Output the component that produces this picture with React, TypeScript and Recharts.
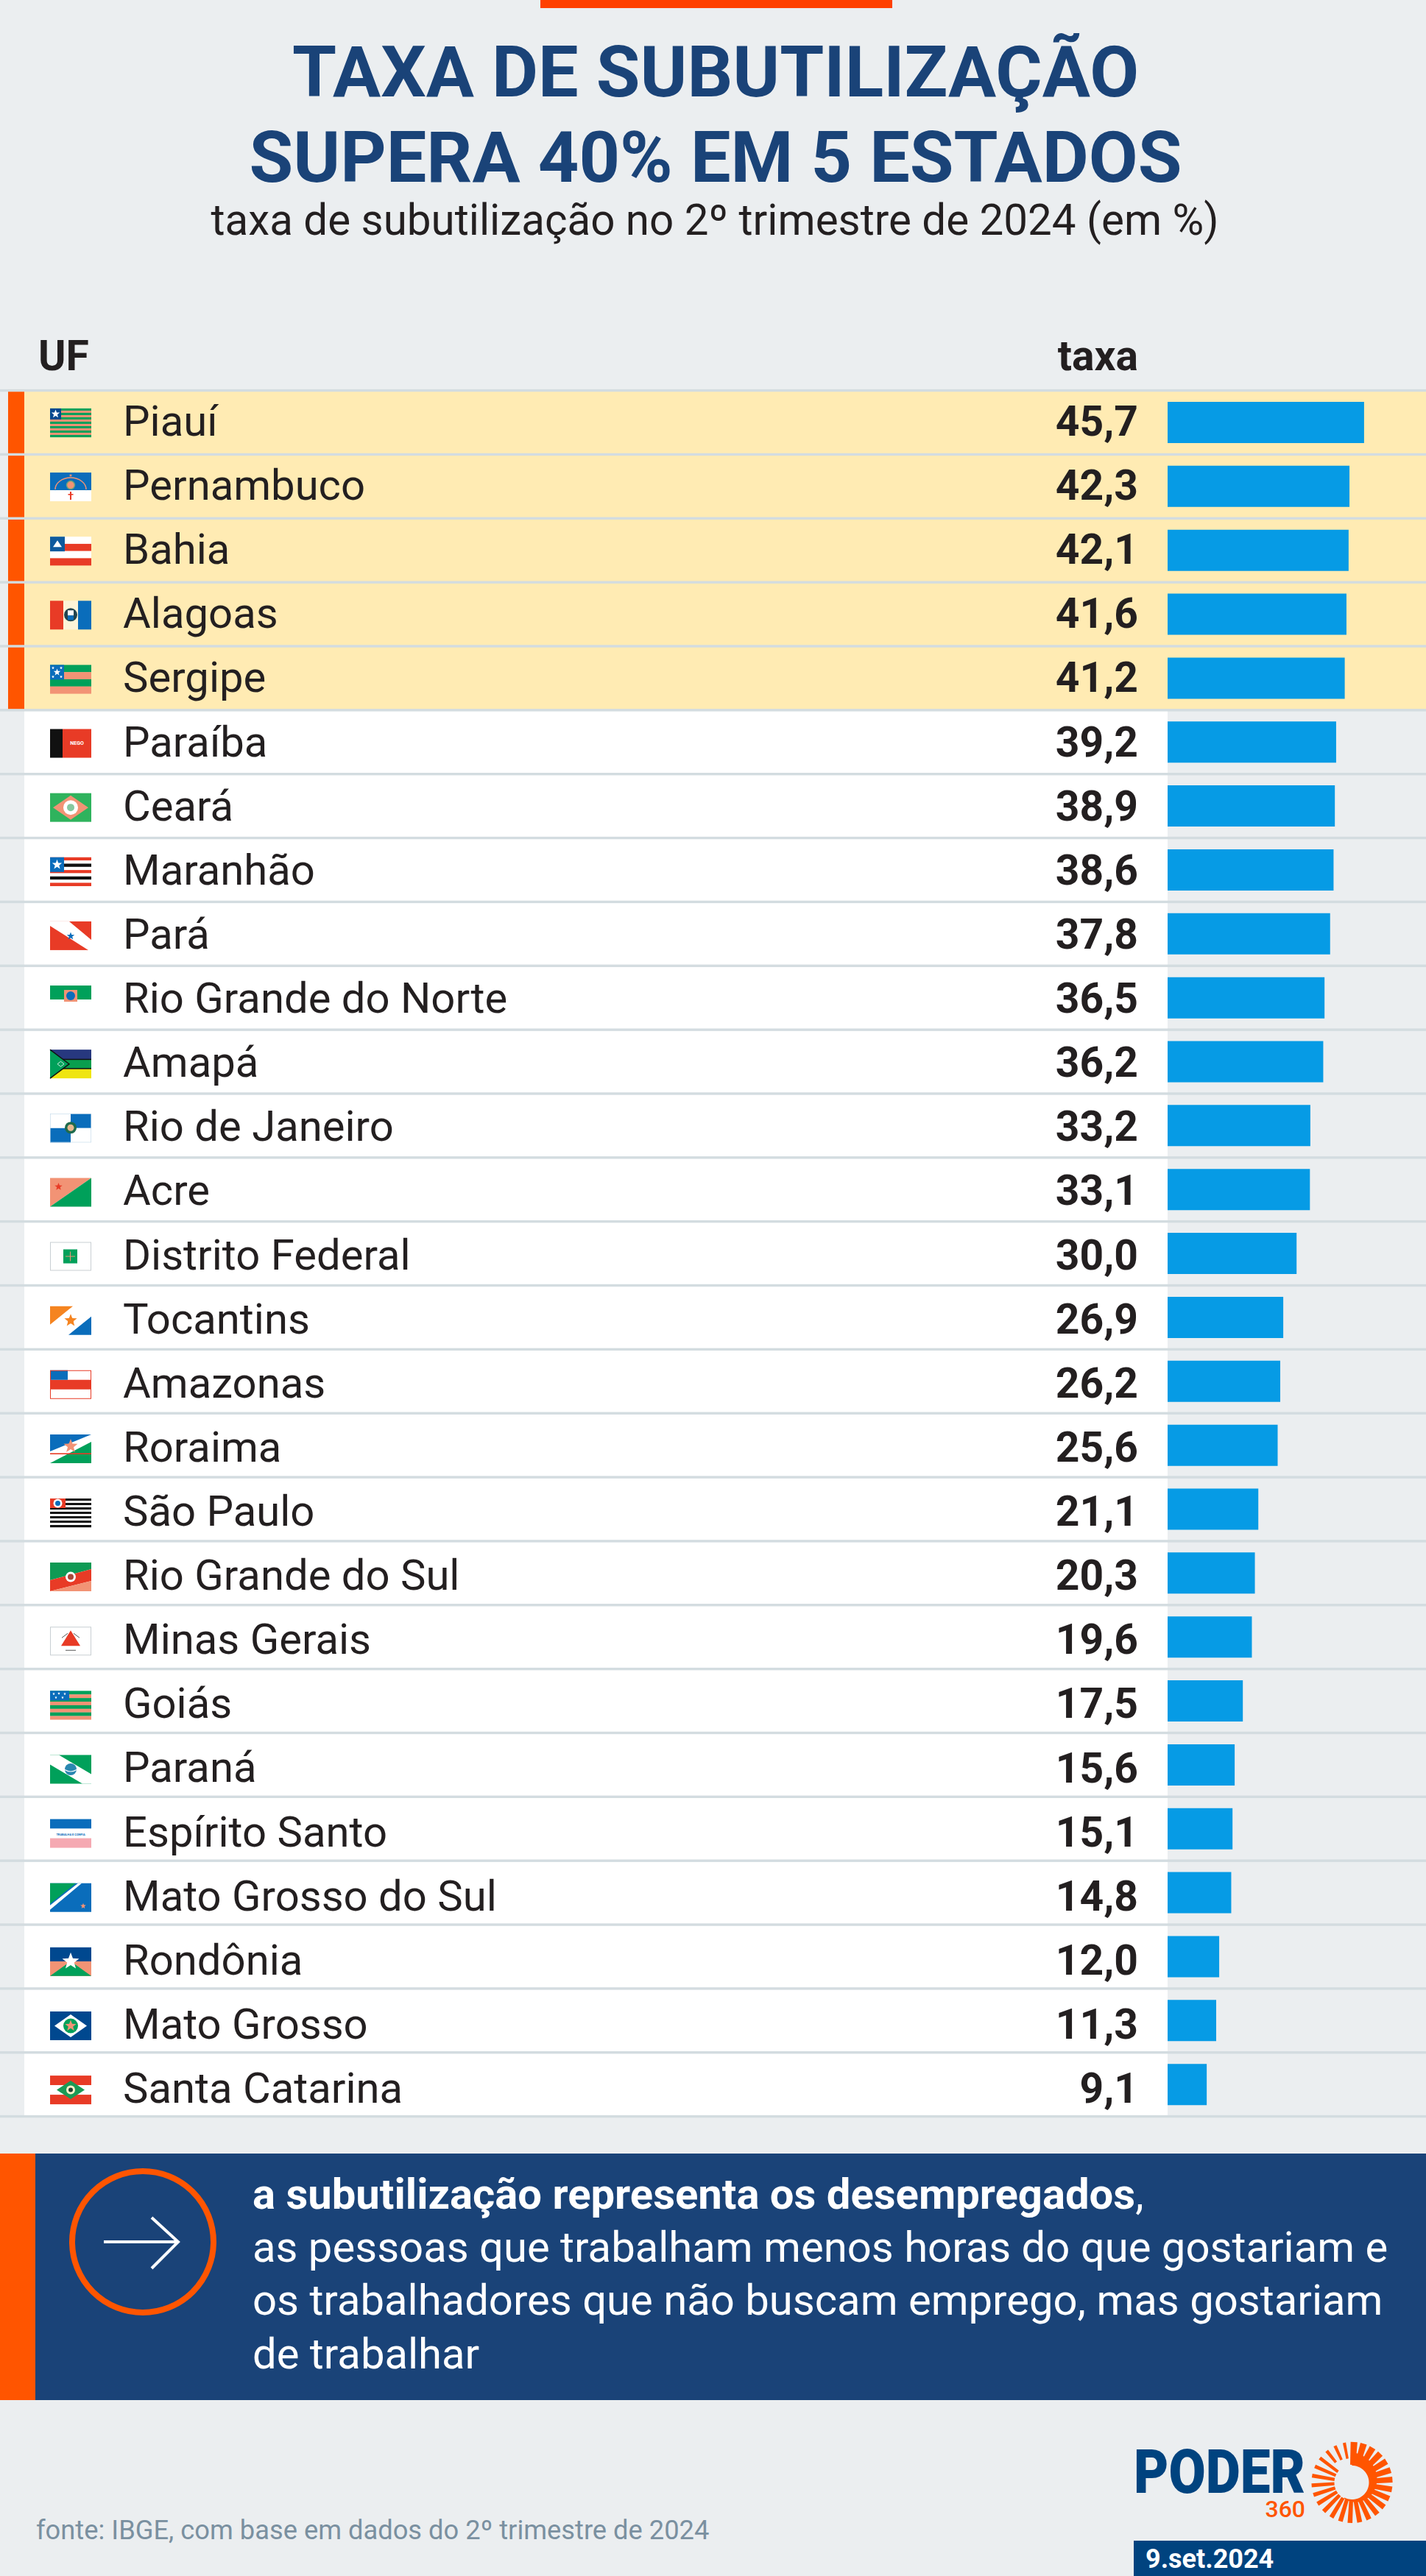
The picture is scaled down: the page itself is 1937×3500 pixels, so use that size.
import React from "react";
import { BarChart, Bar, XAxis, YAxis, LabelList } from "recharts";

const estados = [
  "Piauí", "Pernambuco", "Bahia", "Alagoas", "Sergipe", "Paraíba", "Ceará", "Maranhão", "Pará",
  "Rio Grande do Norte", "Amapá", "Rio de Janeiro", "Acre", "Distrito Federal", "Tocantins",
  "Amazonas", "Roraima", "São Paulo", "Rio Grande do Sul", "Minas Gerais", "Goiás", "Paraná",
  "Espírito Santo", "Mato Grosso do Sul", "Rondônia", "Mato Grosso", "Santa Catarina",
];
const taxas = [
  45.7, 42.3, 42.1, 41.6, 41.2, 39.2, 38.9, 38.6, 37.8, 36.5, 36.2, 33.2, 33.1, 30.0, 26.9, 26.2,
  25.6, 21.1, 20.3, 19.6, 17.5, 15.6, 15.1, 14.8, 12.0, 11.3, 9.1,
];
const destaques = ["Piauí", "Pernambuco", "Bahia", "Alagoas", "Sergipe"];

const rows = estados.map((uf, i) => ({ uf, taxa: taxas[i] }));

const ROW_H = (3500 - 531 - 624) / 27;
// text and flags sit a hair lower each row in the original
const DRIFT = 0.27;

const GREEN = "#00A05A";
const SALMON = "#F29375";
const BLUE = "#0A6DBB";
const DARK = "#00488F";
const RED = "#E83B26";
const BLACK = "#111111";
const GREY = "#C9CFD3";

const star = (cx: number, cy: number, r: number, fill: string) => {
  const pts: string[] = [];
  for (let i = 0; i < 10; i++) {
    const a = -Math.PI / 2 + (i * Math.PI) / 5;
    const q = i % 2 ? r * 0.42 : r;
    pts.push(`${cx + q * Math.cos(a)},${cy + q * Math.sin(a)}`);
  }
  return <polygon points={pts.join(" ")} fill={fill} />;
};

const R = (x: number, y: number, w: number, h: number, fill: string) => (
  <rect x={x} y={y} width={w} height={h} fill={fill} />
);
const P = (points: string, fill: string) => <polygon points={points} fill={fill} />;

const stripes = (n: number, colors: string[]) =>
  Array.from({ length: n }, (_, i) => (
    <rect key={i} x={0} y={(i * 39) / n} width={56} height={39 / n + 0.2} fill={colors[i % colors.length]} />
  ));

const crest = (fill: string, ring: string) => (
  <>
    <circle cx={28} cy={19} r={8} fill={ring} />
    <circle cx={28} cy={19} r={4.5} fill={fill} />
  </>
);

const flags: Record<string, React.ReactNode> = {
  "Piauí": (<>{stripes(13, [GREEN, SALMON])}{R(0, 0, 15, 15, DARK)}{star(7.5, 7.5, 6, "#fff")}</>),
  "Pernambuco": (
    <>
      {R(0, 0, 56, 24, BLUE)}{R(0, 24, 56, 15, "#fff")}
      <path d="M7 23 A21 16 0 0 1 49 23" fill="none" stroke={SALMON} strokeWidth={1.5} />
      <circle cx={28} cy={17} r={5.5} fill={SALMON} stroke="#6BA37A" strokeWidth={1.5} />
      {star(28, 4, 2.5, SALMON)}{R(27, 26, 2, 11, RED)}{R(24.5, 29, 7, 1.6, RED)}
    </>
  ),
  "Bahia": (<>{stripes(4, ["#fff", RED])}{R(0, 0, 20, 20, "#0E5A9E")}{P("10,5 16,14 4,14", "#fff")}</>),
  "Alagoas": (
    <>
      {R(0, 0, 18, 39, RED)}{R(18, 0, 20, 39, "#FDF3D8")}{R(38, 0, 18, 39, BLUE)}
      <circle cx={28} cy={19} r={9} fill="#23444F" />{R(24, 13, 8, 7, "#fff")}{R(24, 20, 8, 6, BLUE)}
    </>
  ),
  "Sergipe": (
    <>
      {stripes(4, [GREEN, SALMON])}{R(0, 0, 19, 20, BLUE)}
      {star(9.5, 10, 5, "#fff")}{star(4, 4, 2.2, "#fff")}{star(15, 4, 2.2, "#fff")}{star(4, 16, 2.2, "#fff")}{star(15, 16, 2.2, "#fff")}
    </>
  ),
  "Paraíba": (
    <>
      {R(0, 0, 17, 39, BLACK)}{R(17, 0, 39, 39, RED)}
      <text x={36.5} y={21.5} textAnchor="middle" fontFamily="Roboto" fontWeight={700} fontSize={7} fill="#fff">NEGO</text>
    </>
  ),
  "Ceará": (<>{R(0, 0, 56, 39, "#2FB35D")}{P("4,19.5 28,3 52,19.5 28,36", SALMON)}<circle cx={28} cy={19.5} r={10} fill="#fff" /><circle cx={28} cy={19.5} r={5} fill="#86C8A0" /></>),
  "Maranhão": (<>{stripes(9, [RED, "#fff", BLACK, "#fff"])}{R(0, 0, 19, 20, BLUE)}{star(9.5, 10, 7, "#fff")}</>),
  "Pará": (<>{R(0, 0, 56, 39, RED)}{P("0,0 26,0 56,25 56,39 52,39 0,6", "#fff")}{star(28, 20, 5.5, BLUE)}</>),
  "Rio Grande do Norte": (<>{R(0, 0, 56, 19, GREEN)}{R(0, 19, 56, 20, "#fff")}{R(19, 6, 18, 16, SALMON)}<circle cx={28} cy={14} r={6} fill={BLUE} /></>),
  "Amapá": (
    <>
      {R(0, 0, 56, 13, "#27387F")}{R(0, 13, 56, 13, "#0A9E4E")}{R(0, 26, 56, 13, "#EFE512")}
      {R(0, 12.5, 56, 1.5, BLACK)}{R(0, 25, 56, 1.5, BLACK)}
      {P("0,0 26,19.5 0,39", GREEN)}
      <polyline points="0,0 26,19.5 0,39" fill="none" stroke={BLACK} strokeWidth={1.4} />
      <polygon points="10,19.5 14.5,16 19,19.5 14.5,23" fill="none" stroke="#fff" strokeWidth={0.8} />
    </>
  ),
  "Rio de Janeiro": (
    <>
      {R(0, 0, 28, 19.5, "#fff")}{R(28, 0, 28, 19.5, BLUE)}{R(0, 19.5, 28, 19.5, BLUE)}{R(28, 19.5, 28, 19.5, "#fff")}
      <rect x={0.3} y={0.3} width={55.4} height={38.4} fill="none" stroke="#BFD7E8" strokeWidth={0.6} />
      {crest("#E8B890", "#1F6B4D")}
    </>
  ),
  "Acre": (<>{P("0,0 56,0 0,39", SALMON)}{P("56,0 56,39 0,39", GREEN)}{star(11.5, 12, 5.5, RED)}</>),
  "Distrito Federal": (<>{R(0, 0, 56, 39, "#fff")}<rect x={0.5} y={0.5} width={55} height={38} fill="none" stroke={GREY} />{R(18, 10, 19, 19, GREEN)}<path d="M27.5 13V26M21 19.5H34" stroke={SALMON} strokeWidth={1} /></>),
  "Tocantins": (<>{R(0, 0, 56, 39, "#fff")}{P("0,0 31,0 0,25", "#F58420")}{P("56,39 25,39 56,14", BLUE)}<circle cx={28} cy={19.5} r={4} fill="#F58420" />{star(28, 19.5, 9, "#F58420")}</>),
  "Amazonas": (<>{R(0, 0, 56, 39, "#fff")}{R(0, 13, 56, 13, RED)}{R(0, 0, 24, 13, BLUE)}<rect x={0.5} y={0.5} width={55} height={38} fill="none" stroke={RED} /></>),
  "Roraima": (<>{R(0, 0, 56, 39, "#fff")}{P("0,0 56,0 0,23", BLUE)}{P("56,39 0,39 56,10", GREEN)}{R(0, 25.5, 56, 1.6, RED)}{star(28, 16, 10, SALMON)}</>),
  "São Paulo": (<>{stripes(13, [BLACK, "#fff"])}{R(0, 0, 21, 13, RED)}<circle cx={10.5} cy={6.5} r={6} fill="#fff" /><circle cx={10.5} cy={6.5} r={3.5} fill={BLUE} /></>),
  "Rio Grande do Sul": (<>{P("0,0 56,0 56,9 0,24", "#0E9A54")}{P("0,24 56,9 56,25 0,39", RED)}{P("0,39 56,25 56,39", SALMON)}<circle cx={28} cy={19.5} r={7} fill="#fff" /><circle cx={28} cy={19.5} r={4} fill="#A9483A" /></>),
  "Minas Gerais": (<>{R(0, 0, 56, 39, "#fff")}<rect x={0.5} y={0.5} width={55} height={38} fill="none" stroke={GREY} />{P("28,5 41,26 15,26", RED)}<path d="M16 15L24 9M32 9L40 15M21 32H35" stroke="#555" strokeWidth={1} /></>),
  "Goiás": (<>{stripes(8, [GREEN, SALMON])}{R(0, 0, 26, 13, BLUE)}{star(5, 4, 2, "#fff")}{star(12, 3.5, 2, "#fff")}{star(20, 4, 2, "#fff")}{star(8, 9, 2, "#fff")}{star(17, 9, 2, "#fff")}</>),
  "Paraná": (<>{R(0, 0, 56, 39, GREEN)}{P("0,0 12,0 56,26 56,39 44,39 0,13", "#fff")}<circle cx={28} cy={19.5} r={8} fill="#2A87B0" /><path d="M20 20Q28 25 36 20" stroke="#fff" strokeWidth={1.2} fill="none" /></>),
  "Espírito Santo": (
    <>
      {R(0, 0, 56, 13, BLUE)}{R(0, 13, 56, 13, "#fff")}{R(0, 26, 56, 13, "#F5A9B2")}
      <text x={28} y={22} textAnchor="middle" fontFamily="Roboto" fontWeight={700} fontSize={4} fill={BLUE}>TRABALHA E CONFIA</text>
    </>
  ),
  "Mato Grosso do Sul": (<>{R(0, 0, 56, 39, BLUE)}{P("0,0 35,0 0,28", GREEN)}{P("38,0 43,0 0,36 0,30", "#fff")}{star(45, 31, 4, SALMON)}</>),
  "Rondônia": (<>{R(0, 0, 56, 22, DARK)}{R(0, 19, 56, 20, SALMON)}{P("0,39 28,19 56,39", GREEN)}{star(28, 19, 12, "#fff")}</>),
  "Mato Grosso": (<>{R(0, 0, 56, 39, DARK)}{P("6,19.5 28,4 50,19.5 28,35", "#fff")}<circle cx={28} cy={19.5} r={10} fill={GREEN} />{star(28, 19.5, 8, SALMON)}</>),
  "Santa Catarina": (<>{R(0, 0, 56, 13, RED)}{R(0, 13, 56, 13, "#fff")}{R(0, 26, 56, 13, RED)}{P("9,19.5 28,7 47,19.5 28,32", "#1B9A55")}<circle cx={28} cy={19.5} r={6} fill="#FFF3C8" /><circle cx={28} cy={19.5} r={3} fill="#1F4030" /></>),
};

const RowBackground = (props: any) => {
  const { y, height, index } = props;
  const top = y - (ROW_H - height) / 2;
  const alto = destaques.includes(rows[index].uf);
  const last = index === rows.length - 1;
  return (
    <g>
      {alto ? (
        <>
          <rect x={33} y={top} width={1904} height={ROW_H} fill="#FFEBB3" />
          <rect x={11} y={top} width={22} height={ROW_H} fill="#FF5500" />
        </>
      ) : (
        <rect x={33} y={top} width={1553} height={ROW_H} fill="#FFFFFF" />
      )}
      <rect x={0} y={top - 1.7} width={1937} height={3.4} fill="#D3DCE0" />
      {last && <rect x={0} y={top + ROW_H - 1.7} width={1937} height={3.4} fill="#D3DCE0" />}
    </g>
  );
};

const UfTick = (props: any) => {
  const { y, payload, index } = props;
  const cy = y + index * DRIFT;
  return (
    <g>
      <g transform={`translate(68 ${cy - 19.5})`}>{flags[payload.value]}</g>
      <text x={167} y={cy + 17.5} fontFamily="Roboto" fontSize={58} fill="#231F20">
        {payload.value}
      </text>
    </g>
  );
};

const ValueLabel = (props: any) => {
  const { y, height, value, index } = props;
  return (
    <text x={1546} y={y + height / 2 + 18 + index * DRIFT} textAnchor="end" fontFamily="Roboto" fontWeight={700} fontSize={57} fill="#231F20">
      {Number(value).toFixed(1).replace(".", ",")}
    </text>
  );
};

const Sun = () => {
  const cx = 1836.5;
  const cy = 3373;
  const p = (r: number, t: number) => `${cx + r * Math.cos(t)},${cy + r * Math.sin(t)}`;
  const n = 26;
  const rays: React.ReactNode[] = [];
  for (let i = 0; i < n; i++) {
    const a = (i / n) * 2 * Math.PI - Math.PI / 2 + 0.05;
    const half = 4.6 - (2.6 * i) / n;
    const r0 = i > n - 4 ? 33 - (n - 1 - i) * -1 : 24;
    const nx = -Math.sin(a);
    const ny = Math.cos(a);
    const x0 = cx + r0 * Math.cos(a);
    const y0 = cy + r0 * Math.sin(a);
    const x1 = cx + 55 * Math.cos(a);
    const y1 = cy + 55 * Math.sin(a);
    rays.push(
      <polygon
        key={i}
        points={`${x0 - nx * half * 0.8},${y0 - ny * half * 0.8} ${x1 - nx * half},${y1 - ny * half} ${x1 + nx * half},${y1 + ny * half} ${x0 + nx * half * 0.8},${y0 + ny * half * 0.8}`}
        fill="#FF5500"
      />
    );
  }
  // solid ring that thins out clockwise from 12 o'clock
  const steps = 40;
  const outer: string[] = [];
  const inner: string[] = [];
  for (let i = 0; i <= steps; i++) {
    const t = -Math.PI / 2 + (i / steps) * Math.PI * 1.15;
    outer.push(p(41 - (17 * i) / steps, t));
    inner.unshift(p(23, t));
  }
  return (
    <g>
      {rays}
      <polygon points={[...outer, ...inner].join(" ")} fill="#FF5500" />
    </g>
  );
};

const App = () => {
  const font = "Roboto";
  return (
    <div style={{ position: "absolute", left: 0, top: 0, width: 1937, height: 3500, background: "#EBEEF0", overflow: "hidden" }}>
      <svg width={1937} height={3500} style={{ position: "absolute", left: 0, top: 0 }}>
        <rect x={734} y={0} width={478} height={11} fill="#FF4000" />
        <text x={972} y={131} textAnchor="middle" fontFamily={font} fontWeight={700} fontSize={97} fill="#1A4378">TAXA DE SUBUTILIZAÇÃO</text>
        <text x={972} y={247} textAnchor="middle" fontFamily={font} fontWeight={700} fontSize={97} fill="#1A4378">SUPERA 40% EM 5 ESTADOS</text>
        <text x={971} y={319} textAnchor="middle" fontFamily={font} fontSize={58.3} fill="#231F20">taxa de subutilização no 2º trimestre de 2024 (em %)</text>
        <text x={52} y={503} fontFamily={font} fontWeight={700} fontSize={57} fill="#231F20">UF</text>
        <text x={1546} y={503} textAnchor="end" fontFamily={font} fontWeight={700} fontSize={57} fill="#231F20">taxa</text>

        <rect x={0} y={2926} width={1937} height={335} fill="#1A4378" />
        <rect x={0} y={2926} width={48} height={335} fill="#FF5500" />
        <circle cx={194} cy={3046} r={96} fill="none" stroke="#FF5500" strokeWidth={8} />
        <path d="M141 3046H242M206 3013L242 3046L206 3082" fill="none" stroke="#fff" strokeWidth={4} />
        <text x={343} y={3001} fontFamily={font} fontSize={58} fill="#fff">
          <tspan fontWeight={700}>a subutilização representa os desempregados</tspan>,
        </text>
        <text x={343} y={3073} fontFamily={font} fontSize={58} fill="#fff">as pessoas que trabalham menos horas do que gostariam e</text>
        <text x={343} y={3145} fontFamily={font} fontSize={58} fill="#fff">os trabalhadores que não buscam emprego, mas gostariam</text>
        <text x={343} y={3218} fontFamily={font} fontSize={58} fill="#fff">de trabalhar</text>

        <text x={49} y={3450} fontFamily={font} fontSize={36.3} fill="#7A90A0">fonte: IBGE, com base em dados do 2º trimestre de 2024</text>

        <text x={1540} y={3387} fontFamily={font} fontWeight={900} fontSize={84} fill="#00437F" textLength={233} lengthAdjust="spacingAndGlyphs">PODER</text>
        <text x={1773} y={3420} textAnchor="end" fontFamily={font} fontWeight={500} fontSize={32} fill="#FF5500">360</text>
        <Sun />
        <rect x={1540} y={3452} width={397} height={48} fill="#00437F" />
        <text x={1556} y={3489} fontFamily={font} fontWeight={700} fontSize={36} fill="#fff">9.set.2024</text>
      </svg>
      <div style={{ position: "absolute", left: 0, top: 0 }}>
        <BarChart
          width={1937}
          height={3500}
          data={rows}
          layout="vertical"
          margin={{ top: 531, right: 0, bottom: 624, left: 0 }}
          barCategoryGap={0}
        >
          <XAxis type="number" hide domain={[0, 60.1]} />
          <YAxis type="category" dataKey="uf" width={1586} axisLine={false} tickLine={false} interval={0} tick={<UfTick />} />
          <Bar dataKey="taxa" fill="#069BE5" barSize={56} isAnimationActive={false} background={(p: any) => <RowBackground {...p} />}>
            <LabelList dataKey="taxa" content={<ValueLabel />} />
          </Bar>
        </BarChart>
      </div>
    </div>
  );
};

export default App;
